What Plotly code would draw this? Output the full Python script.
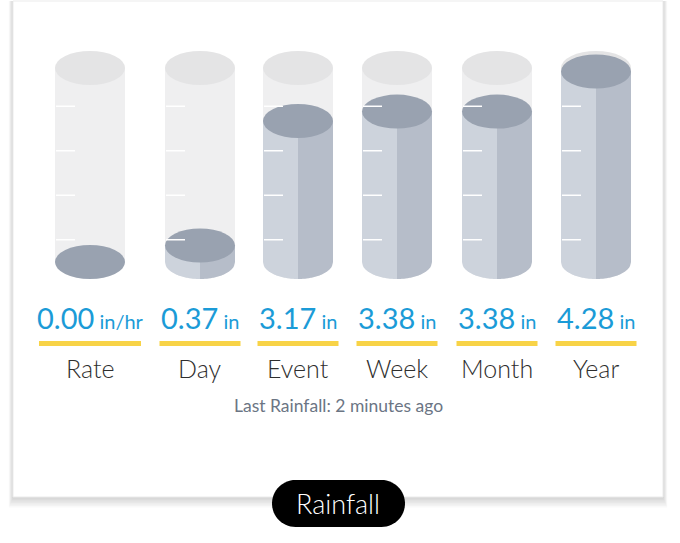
import numpy as np
import plotly.graph_objects as go

# rainfall readings
labels = ["Rate", "Day", "Event", "Week", "Month", "Year"]
values = [0.00, 0.37, 3.17, 3.38, 3.38, 4.28]
units = ["in/hr", "in", "in", "in", "in", "in"]
tick_levels = [0.5, 1.5, 2.5, 3.5]
gauge_max = 4.36
last_rain = "Last Rainfall: 2 minutes ago"
title = "Rainfall"

# page layout (pixels)
W, H = 680, 543
col_x = [90, 200, 298, 397, 497, 596]
bar_w = {"in/hr": 102, "in": 81}
cyl_w = 70
ell_h = 34
top_px, base_px = 68, 262

ppi = (base_px - top_px) / gauge_max       # pixels per inch
y_lo = -(H - base_px) / ppi
y_hi = gauge_max + top_px / ppi
eb = ell_h / 2 / ppi                        # ellipse half height in inches
a = cyl_w / 2

GLASS = "#efeff0"
GLASS_TOP = "#e4e4e5"
FILL_L = "#cdd3dc"
FILL_R = "#b6bdc9"
FILL_TOP = "#99a2b0"
BLUE = "#1b9bd7"


def yp(p):
    return 1 - p / H


def path(xs, ys):
    pts = ["%.2f,%.4f" % (x, y) for x, y in zip(xs, ys)]
    return "M" + " L".join(pts) + " Z"


def body(xc, xl, xr, ytop, ybot):
    # flat top, bottom follows the lower half of the base ellipse
    xs = np.linspace(xr, xl, 40)
    yb = ybot - eb * np.sqrt(np.clip(1 - ((xs - xc) / a) ** 2, 0, 1))
    return path([xl, xr] + list(xs), [ytop, ytop] + list(yb))


def ellipse(xc, yc, color):
    return dict(type="circle", xref="x", yref="y", x0=xc - a, x1=xc + a,
                y0=yc - eb, y1=yc + eb, fillcolor=color, line_width=0, layer="above")


shapes = []

# card with soft shadow
for i in range(7, 0, -1):
    shapes.append(dict(type="rect", xref="x", yref="paper", x0=13 - i * 0.6, x1=663 + i * 0.6,
                       y0=yp(497 + i * 1.5), y1=yp(1), fillcolor="rgba(0,0,0,0.024)",
                       line_width=0, layer="below"))
shapes.append(dict(type="rect", xref="x", yref="paper", x0=13, x1=663, y0=yp(497), y1=yp(1),
                   fillcolor="white", line=dict(color="#ebebeb", width=1), layer="below"))

for xc, v, u in zip(col_x, values, units):
    xl, xr = xc - a, xc + a
    lvl = min(v, gauge_max)
    # glass
    shapes.append(dict(type="path", xref="x", yref="y", path=body(xc, xl, xr, gauge_max, 0),
                       fillcolor=GLASS, line_width=0, layer="above"))
    shapes.append(ellipse(xc, gauge_max, GLASS_TOP))
    # water column, light and shaded halves
    if lvl > 0:
        shapes.append(dict(type="path", xref="x", yref="y", path=body(xc, xl, xc, lvl, 0),
                           fillcolor=FILL_L, line_width=0, layer="above"))
        shapes.append(dict(type="path", xref="x", yref="y", path=body(xc, xc, xr, lvl, 0),
                           fillcolor=FILL_R, line_width=0, layer="above"))
    shapes.append(ellipse(xc, lvl, FILL_TOP))
    # scale marks
    for t in tick_levels:
        shapes.append(dict(type="line", xref="x", yref="y", x0=xl + 1, x1=xl + 20, y0=t, y1=t,
                           line=dict(color="white", width=1.5), layer="above"))
    # yellow underline
    bw = bar_w[u]
    shapes.append(dict(type="rect", xref="x", yref="paper", x0=xc - bw / 2, x1=xc + bw / 2,
                       y0=yp(346), y1=yp(341), fillcolor="#f8d347", line_width=0))

# title pill
r = 23.5
px0, px1, pt, pb = 272, 405, 480, 527
ang = np.linspace(np.pi / 2, 3 * np.pi / 2, 30)
xs = list(px0 + r + r * np.cos(ang)) + list(px1 - r - r * np.cos(ang))
ys = list((pt + pb) / 2 - r * np.sin(ang)) + list((pt + pb) / 2 + r * np.sin(ang))
shapes.append(dict(type="path", xref="x", yref="paper",
                   path=path(xs, [yp(y) for y in ys]), fillcolor="black", line_width=0))


def note(x, y, text, **font):
    return dict(x=x, y=yp(y), xref="x", yref="paper", showarrow=False, text=text,
                xanchor="center", yanchor="middle", font=font)


annotations = []
for xc, v, u, lab in zip(col_x, values, units, labels):
    annotations.append(note(xc, 317, "%.2f<span style='font-size:20px'> %s</span>" % (v, u),
                            family="Lato", size=29, color=BLUE))
    annotations.append(note(xc, 368, lab, family="Lato", size=25, color="#2e2e2e", weight=300))

annotations.append(note(338, 405, last_rain, family="Lato", size=17.5, color="#6b7584"))
annotations.append(note(338, 503, title, family="Lato", size=27, color="white", weight=300))

fig = go.Figure()
fig.update_layout(
    width=W, height=H, margin=dict(l=0, r=0, t=0, b=0),
    paper_bgcolor="white", plot_bgcolor="white",
    xaxis=dict(range=[0, W], visible=False, fixedrange=True),
    yaxis=dict(range=[y_lo, y_hi], visible=False, fixedrange=True),
    shapes=shapes, annotations=annotations, showlegend=False,
)
fig.write_html("out.html", config={"displayModeBar": False},
               post_script="document.body.style.margin = '0';")
